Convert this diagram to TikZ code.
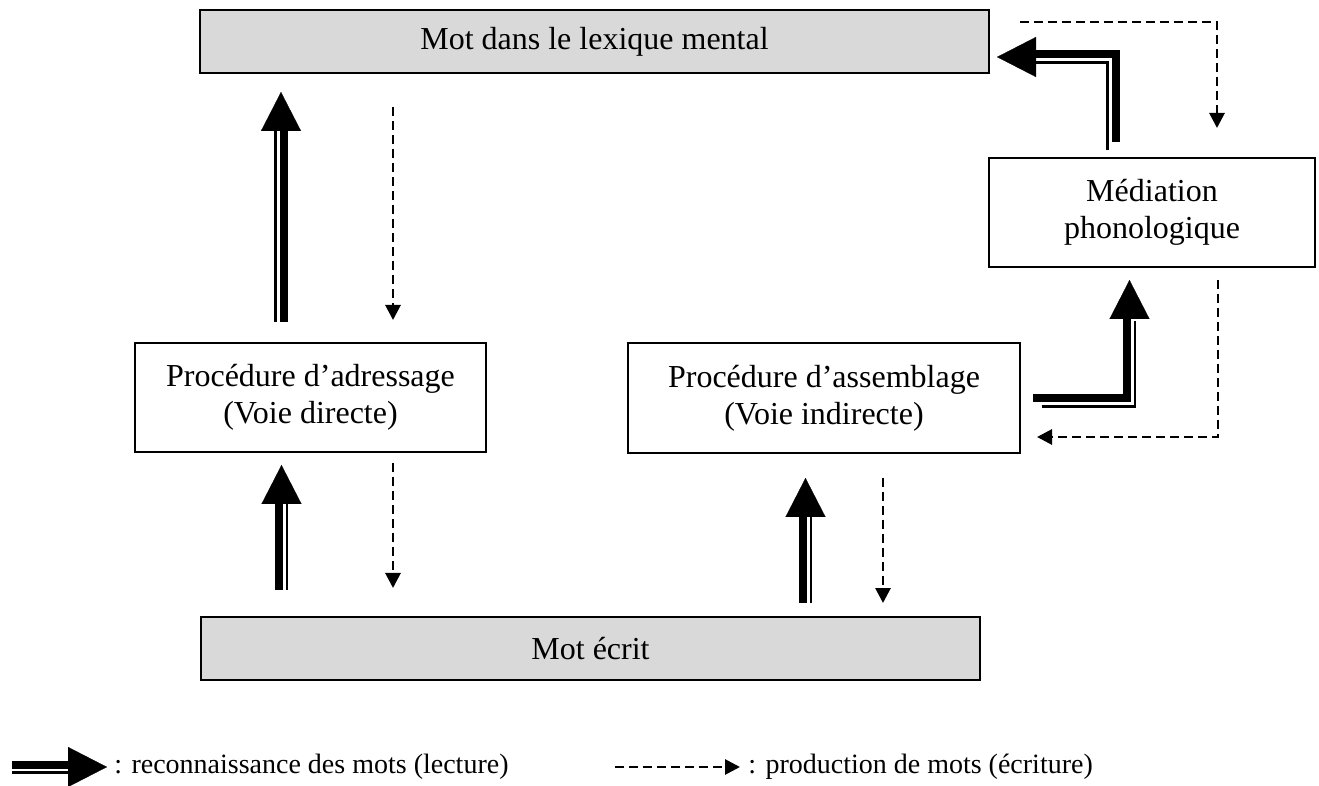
\documentclass[tikz,border=0pt]{standalone}
\usepackage{fontspec}
\setmainfont{Liberation Serif}
\usetikzlibrary{arrows.meta}
\definecolor{gris}{HTML}{D9D9D9}
\tikzset{
  bloc/.style={draw, line width=1.2pt, inner sep=0pt, align=center,
    font=\fontsize{16}{18.4}\selectfont},
  grisbloc/.style={bloc, fill=gris},
  texte/.style={inner sep=0pt, font=\fontsize{14}{16}\selectfont},
  ecriture/.style={line width=1.4pt, dash pattern=on 4.5pt off 2.5pt,
    -{Triangle[width=7.5pt,length=7.5pt]}},
  epais/.style={line width=4pt, shorten >=18pt},
  fin/.style={line width=1.25pt, shorten >=18pt},
  pointe/.style={draw=white, line width=0.1pt,
    -{Triangle[width=20pt,length=19.5pt,color=black]}}
}
% fleche de lecture : trait epais + trait fin
\newcommand{\lecture}[3]{%
  \draw[pointe] #3;
  \draw[epais, transform canvas={shift={#1}}] #3;
  \draw[fin, transform canvas={shift={#2}}] #3;
}
\begin{document}
\begin{tikzpicture}[x=0.5pt, y=-0.5pt]
  \useasboundingbox (0,0) rectangle (1319,786);

  % boites
  \node[grisbloc, minimum width=394.5pt, minimum height=31.5pt] (lexique) at (594.5,41.5) {Mot dans le lexique mental};
  \node[bloc, minimum width=163pt, minimum height=54.5pt] (mediation) at (1152,212.5) {Médiation\\phonologique};
  \node[bloc, minimum width=175.5pt, minimum height=54.5pt] (adressage) at (310.5,397.5) {Procédure d’adressage\\(Voie directe)};
  \node[bloc, minimum width=196pt, minimum height=55pt] (assemblage) at (824,398) {Procédure d’assemblage\\(Voie indirecte)};
  \node[grisbloc, minimum width=389.5pt, minimum height=31.5pt] (ecrit) at (590.5,648.5) {Mot écrit};

  % extremites des fleches
  \coordinate (l1d) at (281,322);    \coordinate (l1f) at (281,92);
  \coordinate (l2d) at (281.5,590);  \coordinate (l2f) at (281.5,465);
  \coordinate (l3d) at (805.5,603);  \coordinate (l3f) at (805.5,478);
  \coordinate (l4d) at (1036,401);   \coordinate (l4f) at (1129.5,280);
  \coordinate (l5d) at (1113,145);   \coordinate (l5f) at (997,57);
  \coordinate (e1d) at (393,107);    \coordinate (e1f) at (393,320);
  \coordinate (e2d) at (393,463);    \coordinate (e2f) at (393,588);
  \coordinate (e3d) at (883,478);    \coordinate (e3f) at (883,603);
  \coordinate (e4d) at (1020,22);    \coordinate (e4f) at (1217,128);
  \coordinate (e5d) at (1218,280);   \coordinate (e5f) at (1037,437);

  % lecture
  \lecture{(1.5pt,0pt)}{(-2.75pt,0pt)}{(l1d) -- (l1f)}
  \lecture{(-1.5pt,0pt)}{(2.75pt,0pt)}{(l2d) -- (l2f)}
  \lecture{(-1.5pt,0pt)}{(2.75pt,0pt)}{(l3d) -- (l3f)}
  \lecture{(-1.5pt,1.5pt)}{(2.75pt,-2.75pt)}{(l4d) -| (l4f)}
  \lecture{(1.5pt,1.5pt)}{(-2.75pt,-2.75pt)}{(l5d) |- (l5f)}

  % ecriture
  \draw[ecriture] (e1d) -- (e1f);
  \draw[ecriture] (e2d) -- (e2f);
  \draw[ecriture] (e3d) -- (e3f);
  \draw[ecriture] (e4d) -| (e4f);
  \draw[ecriture] (e5d) |- (e5f);

  % legende
  \coordinate (g1d) at (12,767);   \coordinate (g1f) at (107,767);
  \coordinate (g2d) at (615,767);  \coordinate (g2f) at (740,767);
  \lecture{(0pt,1.25pt)}{(0pt,-2.75pt)}{(g1d) -- (g1f)}
  \node[texte, anchor=west] (leglecture) at (114,767) {: reconnaissance des mots (lecture)};
  \draw[ecriture] (g2d) -- (g2f);
  \node[texte, anchor=west] (legecriture) at (748,767) {: production de mots (écriture)};
\end{tikzpicture}
\end{document}
